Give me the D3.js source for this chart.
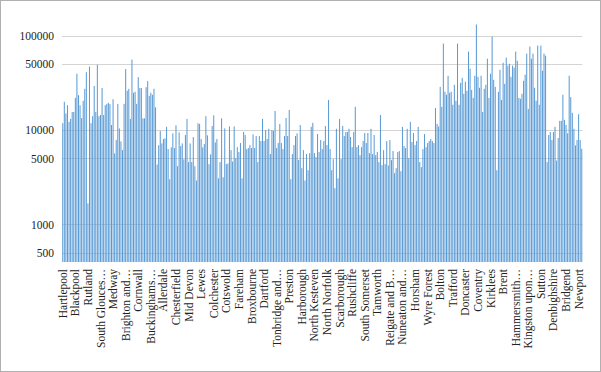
<!DOCTYPE html>
<html>
<head>
<meta charset="utf-8">
<script src="https://cdn.jsdelivr.net/npm/d3@7"></script>
<style>
  body { margin: 0; background: #fff; }
  text { font-family: "Liberation Serif", "Times New Roman", serif; }
</style>
</head>
<body>
<svg width="601" height="372"></svg>
<script>
// local authorities, in code order
const unitary = ['Hartlepool', 'Middlesbrough', 'Redcar and Cleveland', 'Stockton-on-Tees', 'Darlington', 'Halton',
    'Warrington', 'Blackburn with Darwen', 'Blackpool', 'Kingston upon Hull, City of', 'East Riding of Yorkshire',
    'North East Lincolnshire', 'North Lincolnshire', 'York', 'Derby', 'Leicester', 'Rutland', 'Nottingham',
    'Herefordshire, County of', 'Telford and Wrekin', 'Stoke-on-Trent', 'Bath and North East Somerset',
    'Bristol, City of', 'North Somerset', 'South Gloucestershire', 'Plymouth', 'Torbay', 'Swindon', 'Peterborough',
    'Luton', 'Southend-on-Sea', 'Thurrock', 'Medway', 'Bracknell Forest', 'West Berkshire', 'Reading', 'Slough',
    'Windsor and Maidenhead', 'Wokingham', 'Milton Keynes', 'Brighton and Hove', 'Portsmouth', 'Southampton',
    'Isle of Wight', 'County Durham', 'Cheshire East', 'Cheshire West and Chester', 'Shropshire', 'Cornwall',
    'Isles of Scilly', 'Wiltshire', 'Bedford', 'Central Bedfordshire', 'Northumberland',
    'Bournemouth, Christchurch and Poole', 'Dorset', 'Buckinghamshire', 'North Northamptonshire',
    'West Northamptonshire'];

const districts = ['Cambridge', 'East Cambridgeshire', 'Fenland', 'Huntingdonshire', 'South Cambridgeshire',
    'Allerdale', 'Barrow-in-Furness', 'Carlisle', 'Copeland', 'Eden', 'South Lakeland',
    'Amber Valley', 'Bolsover', 'Chesterfield', 'Derbyshire Dales', 'Erewash', 'High Peak', 'North East Derbyshire',
    'South Derbyshire', 'East Devon', 'Exeter', 'Mid Devon', 'North Devon', 'South Hams', 'Teignbridge', 'Torridge',
    'West Devon', 'Eastbourne', 'Hastings', 'Lewes', 'Rother', 'Wealden', 'Basildon', 'Braintree', 'Brentwood',
    'Castle Point', 'Chelmsford', 'Colchester', 'Epping Forest', 'Harlow', 'Maldon', 'Rochford', 'Tendring',
    'Uttlesford', 'Cheltenham', 'Cotswold', 'Forest of Dean', 'Gloucester', 'Stroud', 'Tewkesbury',
    'Basingstoke and Deane', 'East Hampshire', 'Eastleigh', 'Fareham', 'Gosport', 'Hart', 'Havant', 'New Forest',
    'Rushmoor', 'Test Valley', 'Winchester', 'Broxbourne', 'Dacorum', 'Hertsmere', 'North Hertfordshire',
    'Three Rivers', 'Watford', 'Ashford', 'Canterbury', 'Dartford', 'Dover', 'Gravesham', 'Maidstone', 'Sevenoaks',
    'Folkestone and Hythe', 'Swale', 'Thanet', 'Tonbridge and Malling', 'Tunbridge Wells', 'Burnley', 'Chorley',
    'Fylde', 'Hyndburn', 'Lancaster', 'Pendle', 'Preston', 'Ribble Valley', 'Rossendale', 'South Ribble',
    'West Lancashire', 'Wyre', 'Blaby', 'Charnwood', 'Harborough', 'Hinckley and Bosworth', 'Melton',
    'North West Leicestershire', 'Oadby and Wigston', 'Boston', 'East Lindsey', 'Lincoln', 'North Kesteven',
    'South Holland', 'South Kesteven', 'West Lindsey', 'Breckland', 'Broadland', 'Great Yarmouth',
    "King's Lynn and West Norfolk", 'North Norfolk', 'Norwich', 'South Norfolk', 'Craven', 'Hambleton', 'Harrogate',
    'Richmondshire', 'Ryedale', 'Scarborough', 'Selby', 'Ashfield', 'Bassetlaw', 'Broxtowe', 'Gedling', 'Mansfield',
    'Newark and Sherwood', 'Rushcliffe', 'Cherwell', 'Oxford', 'South Oxfordshire', 'Vale of White Horse',
    'West Oxfordshire', 'Mendip', 'Sedgemoor', 'South Somerset', 'Cannock Chase', 'East Staffordshire', 'Lichfield',
    'Newcastle-under-Lyme', 'South Staffordshire', 'Stafford', 'Staffordshire Moorlands', 'Tamworth', 'Babergh',
    'Ipswich', 'Mid Suffolk', 'Elmbridge', 'Epsom and Ewell', 'Guildford', 'Mole Valley', 'Reigate and Banstead',
    'Runnymede', 'Spelthorne', 'Surrey Heath', 'Tandridge', 'Waverley', 'Woking', 'North Warwickshire',
    'Nuneaton and Bedworth', 'Rugby', 'Stratford-on-Avon', 'Warwick', 'Adur', 'Arun', 'Chichester', 'Crawley',
    'Horsham', 'Mid Sussex', 'Worthing', 'Bromsgrove', 'Malvern Hills', 'Redditch', 'Worcester', 'Wychavon',
    'Wyre Forest', 'St Albans', 'Welwyn Hatfield', 'East Hertfordshire', 'Stevenage', 'East Suffolk', 'West Suffolk',
    'Somerset West and Taunton'];

const metropolitan = ['Bolton', 'Bury', 'Manchester', 'Oldham', 'Rochdale', 'Salford', 'Stockport', 'Tameside',
    'Trafford', 'Wigan', 'Knowsley', 'Liverpool', 'St. Helens', 'Sefton', 'Wirral', 'Barnsley', 'Doncaster',
    'Rotherham', 'Sheffield', 'Newcastle upon Tyne', 'North Tyneside', 'South Tyneside', 'Sunderland', 'Birmingham',
    'Coventry', 'Dudley', 'Sandwell', 'Solihull', 'Walsall', 'Wolverhampton', 'Bradford', 'Calderdale', 'Kirklees',
    'Leeds', 'Wakefield', 'Gateshead'];

const london = ['City of London', 'Barking and Dagenham', 'Barnet', 'Bexley', 'Brent', 'Bromley', 'Camden',
    'Croydon', 'Ealing', 'Enfield', 'Greenwich', 'Hackney', 'Hammersmith and Fulham', 'Haringey', 'Harrow',
    'Havering', 'Hillingdon', 'Hounslow', 'Islington', 'Kensington and Chelsea', 'Kingston upon Thames', 'Lambeth',
    'Lewisham', 'Merton', 'Newham', 'Redbridge', 'Richmond upon Thames', 'Southwark', 'Sutton', 'Tower Hamlets',
    'Waltham Forest', 'Wandsworth', 'Westminster'];

const wales = ['Isle of Anglesey', 'Gwynedd', 'Conwy', 'Denbighshire', 'Flintshire', 'Wrexham', 'Ceredigion',
    'Pembrokeshire', 'Carmarthenshire', 'Swansea', 'Neath Port Talbot', 'Bridgend', 'Vale of Glamorgan', 'Cardiff',
    'Rhondda Cynon Taf', 'Caerphilly', 'Blaenau Gwent', 'Torfaen', 'Monmouthshire', 'Newport', 'Powys',
    'Merthyr Tydfil'];

// values, same order as the names above
const unitaryValues = [11800, 19900, 15000, 18300, 12200, 13100, 15500, 15500, 21900, 39400,
    23400, 18300, 13400, 20400, 27300, 41000, 1670, 46800, 11800, 14000,
    29200, 15500, 49100, 14000, 14400, 27800, 14400, 18300, 18900, 19400,
    18800, 11300, 21200, 5650, 7830, 18900, 10400, 7570, 6120, 18900,
    44200, 26000, 27300, 13100, 55600, 24800, 25400, 18900, 36300, 27800,
    27800, 13300, 13300, 28400, 33000, 23000, 24800, 23600, 27300];

const districtValues = [17400, 4310, 6880, 9760, 7210, 8020, 8150, 10800, 6280, 3010,
    6540, 9220, 6440, 11200, 4140, 9440, 6760, 7210, 4880, 8850,
    13100, 4570, 7210, 4570, 8430, 4140, 2920, 11800, 11600, 8020,
    6540, 7100, 14000, 8780, 4350, 5510, 11000, 14300, 7390, 8020,
    3080, 4570, 13300, 3160, 10400, 4350, 4420, 10900, 6120, 4640,
    10900, 5040, 6590, 5840, 7280, 3080, 9520, 8850, 6280, 6440,
    6920, 6440, 8990, 6440, 8630, 4570, 8630, 7640, 13100, 7640,
    10000, 8020, 10300, 5560, 10000, 9760, 15900, 6440, 7280, 11600,
    7280, 6280, 8630, 13400, 8630, 16300, 3010, 5560, 6920, 8630,
    9220, 4800, 11300, 3940, 6120, 2920, 5560, 3750, 5690, 10800,
    11900, 5690, 5160, 9060, 5840, 7830, 6280, 7640, 11000, 6920,
    20800, 6280, 3750, 4910, 2420, 10300, 3080, 13100, 4910, 11000,
    8630, 9520, 9520, 10300, 8430, 6590, 9520, 17600, 6590, 6920,
    5420, 6590, 7640, 9290, 7280, 9290, 5690, 10300, 5560, 8850,
    5420, 5840, 4570, 14400, 4250, 6120, 4350, 7640, 4210, 7830,
    4800, 5980, 3490, 3940, 5840, 5980, 3660, 10800, 6760, 6440,
    10300, 5040, 12200, 7450, 9290, 6920, 7640, 10800, 4570, 4040,
    6280, 9060, 6590, 7280, 7640, 8020, 7640, 7280, 17100, 11600,
    10900];

const metropolitanValues = [28600, 17600, 82200, 25400, 23600, 37500, 24800, 25400, 18500, 30100,
    20400, 82200, 18500, 31600, 35700, 24200, 32400, 26000, 67600, 44600,
    26600, 21900, 37500, 131000, 36600, 28000, 37500, 15500, 27300, 30100,
    56900, 21900, 39400, 97500, 34000, 28600];

const londonValues = [3750, 25400, 43500, 20800, 51600, 30800, 58400, 48000, 50300, 36600,
    48000, 45700, 67600, 54200, 21900, 21400, 24200, 33200, 38500, 64400,
    16700, 76400, 56900, 64400, 28000, 20400, 78300, 18500, 78300, 42400,
    64400, 61300, 4570];

const walesValues = [8850, 9520, 7830, 9520, 10800, 4750, 8220, 12500, 12500, 23600,
    12800, 11300, 9220, 37500, 22300, 15200, 10300, 6870, 7830, 14700,
    7830, 6330];

// every 8th name is shown, cut short like the original
const tickLabels = ['Hartlepool', 'Blackpool', 'Rutland', 'South Glouces\u2026', 'Medway', 'Brighton and\u2026',
    'Cornwall', 'Buckinghams\u2026', 'Allerdale', 'Chesterfield', 'Mid Devon', 'Lewes', 'Colchester', 'Cotswold',
    'Fareham', 'Broxbourne', 'Dartford', 'Tonbridge and\u2026', 'Preston', 'Harborough', 'North Kesteven',
    'North Norfolk', 'Scarborough', 'Rushcliffe', 'South Somerset', 'Tamworth', 'Reigate and B\u2026',
    'Nuneaton and\u2026', 'Horsham', 'Wyre Forest', 'Bolton', 'Trafford', 'Doncaster', 'Coventry', 'Kirklees',
    'Brent', 'Hammersmith\u2026', 'Kingston upon\u2026', 'Sutton', 'Denbighshire', 'Bridgend', 'Newport'];

const yTicks = [500, 1000, 5000, 10000, 50000, 100000];

const categories = [...unitary, ...districts, ...metropolitan, ...london, ...wales];
const values = [...unitaryValues, ...districtValues, ...metropolitanValues, ...londonValues, ...walesValues];
const data = categories.map((name, i) => ({ name, value: values[i] }));

const svg = d3.select('svg');

svg.append('rect')
    .attr('x', 0.5).attr('y', 0.5)
    .attr('width', 600).attr('height', 371)
    .attr('fill', '#fff').attr('stroke', '#b0b0b0');

const x = d3.scaleBand()
    .domain(categories)
    .range([62, 582.5])
    .paddingInner(0.35)
    .paddingOuter(0.15);

const y = d3.scaleLog()
    .domain([400, 170000])
    .range([262, 13.8]);

// gridlines
svg.append('g')
    .selectAll('line')
    .data(yTicks)
    .join('line')
    .attr('x1', 62).attr('x2', 582.5)
    .attr('y1', d => Math.round(y(d)) + 0.5)
    .attr('y2', d => Math.round(y(d)) + 0.5)
    .attr('stroke', '#d4d4d4');

svg.append('g')
    .selectAll('rect')
    .data(data)
    .join('rect')
    .attr('x', d => x(d.name))
    .attr('width', x.bandwidth())
    .attr('y', d => y(d.value))
    .attr('height', d => y(400) - y(d.value))
    .attr('fill', '#5b9bd5');

// y axis
const yAxis = svg.append('g')
    .attr('transform', 'translate(62,0)')
    .call(d3.axisLeft(y).tickValues(yTicks).tickFormat(d3.format('d')).tickSize(0).tickPadding(8));
yAxis.select('.domain').remove();
yAxis.selectAll('text')
    .style('font-size', '11.5px')
    .style('font-family', '"Liberation Serif", serif')
    .attr('fill', '#222');

// x axis
const shown = categories.filter((d, i) => i % 8 === 0);
const xAxis = svg.append('g')
    .attr('transform', 'translate(0,262)')
    .call(d3.axisBottom(x).tickValues(shown).tickFormat((d, i) => tickLabels[i]).tickSize(0));
xAxis.select('.domain').remove();
xAxis.selectAll('text')
    .style('font-size', '11.5px')
    .style('font-family', '"Liberation Serif", serif')
    .attr('fill', '#222')
    .attr('text-anchor', 'end')
    .attr('transform', 'translate(0,7) rotate(-90)')
    .attr('x', 0).attr('y', 0).attr('dy', '0.35em');
</script>
</body>
</html>
